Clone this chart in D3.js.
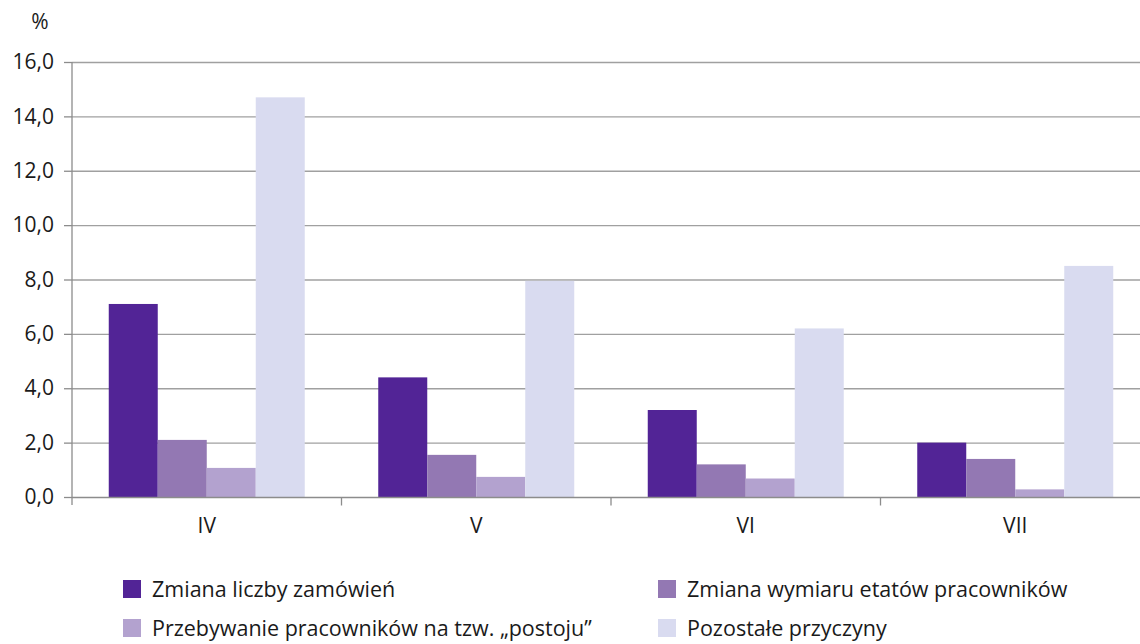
<!DOCTYPE html>
<html>
<head>
<meta charset="utf-8">
<script src="https://cdn.jsdelivr.net/npm/d3@7"></script>
<style>
  body { margin: 0; background: #fff; }
  text { font-family: "Open Sans", "Noto Sans", sans-serif; fill: #1a1a1a; }
</style>
</head>
<body>
<div id="container"></div>
<script>
const width = 1140;
const height = 644;
const marginTop = 62;
const marginLeft = 72;
const plotRight = 1150;
const plotBottom = 497;

const months = ["IV", "V", "VI", "VII"];
const seriesNames = [
  "Zmiana liczby zamówień",
  "Zmiana wymiaru etatów pracowników",
  "Przebywanie pracowników na tzw. „postoju”",
  "Pozostałe przyczyny"
];
const colors = ["#522496", "#9378b3", "#b3a2cf", "#d9dbf0"];
const zamowien = [7.1, 4.4, 3.2, 2.0];
const etatow = [2.1, 1.55, 1.2, 1.4];
const postoj = [1.07, 0.74, 0.68, 0.28];
const pozostale = [14.7, 7.95, 6.2, 8.5];
const yTicks = [0, 2, 4, 6, 8, 10, 12, 14, 16];

const seriesValues = [zamowien, etatow, postoj, pozostale];

const svg = d3.select("#container")
  .append("svg")
  .attr("width", width)
  .attr("height", height);

const x0 = d3.scaleBand()
  .domain(months)
  .range([marginLeft, plotRight]);

const x1 = d3.scaleBand()
  .domain(d3.range(seriesNames.length))
  .range([0, x0.bandwidth()])
  .paddingOuter(0.75)
  .paddingInner(0);

const y = d3.scaleLinear()
  .domain([0, 16])
  .range([plotBottom, marginTop]);

// gridlines
svg.append("g")
  .selectAll("line")
  .data(yTicks.filter(d => d > 0))
  .join("line")
  .attr("x1", marginLeft)
  .attr("x2", plotRight)
  .attr("y1", d => y(d) + 0.5)
  .attr("y2", d => y(d) + 0.5)
  .attr("stroke", "#a0a0a0")
  .attr("stroke-width", 1.3);

// bars
const groups = svg.append("g")
  .selectAll("g")
  .data(months)
  .join("g")
  .attr("transform", d => `translate(${x0(d)},0)`);

groups.selectAll("rect")
  .data((m, i) => seriesValues.map((vals, s) => ({ s, v: vals[i] })))
  .join("rect")
  .attr("x", d => x1(d.s))
  .attr("width", x1.bandwidth())
  .attr("y", d => y(d.v))
  .attr("height", d => y(0) - y(d.v))
  .attr("fill", d => colors[d.s]);

// y axis
const yAxis = svg.append("g")
  .attr("transform", `translate(${marginLeft},0)`)
  .call(d3.axisLeft(y).tickValues(yTicks).tickSize(8).tickPadding(10)
    .tickFormat(d => d3.format(".1f")(d).replace(".", ",")));
yAxis.select(".domain").remove();
yAxis.selectAll(".tick line").attr("stroke", "#8c8c8c").attr("stroke-width", 1.3);
yAxis.selectAll(".tick text").style("font-size", "21px").attr("fill", "#1a1a1a");
yAxis.append("line")
  .attr("y1", marginTop)
  .attr("y2", plotBottom + 8)
  .attr("stroke", "#8c8c8c")
  .attr("stroke-width", 1.3);

// x axis
const xAxis = svg.append("g")
  .attr("transform", `translate(0,${plotBottom + 0.5})`);
xAxis.append("line")
  .attr("x1", marginLeft)
  .attr("x2", plotRight)
  .attr("stroke", "#8c8c8c")
  .attr("stroke-width", 1.3);
xAxis.selectAll("line.sep")
  .data(months.slice(1))
  .join("line")
  .attr("class", "sep")
  .attr("x1", d => x0(d))
  .attr("x2", d => x0(d))
  .attr("y1", 0)
  .attr("y2", 8)
  .attr("stroke", "#8c8c8c")
  .attr("stroke-width", 1.3);
xAxis.selectAll("text")
  .data(months)
  .join("text")
  .attr("x", d => x0(d) + x0.bandwidth() / 2)
  .attr("y", 35)
  .attr("text-anchor", "middle")
  .style("font-size", "21px")
  .text(d => d);

svg.append("text")
  .attr("x", 40)
  .attr("y", 29)
  .attr("text-anchor", "middle")
  .style("font-size", "21px")
  .text("%");

// legend
const legendPos = [[123, 580], [658, 580], [123, 619], [658, 619]];
const legend = svg.append("g")
  .selectAll("g")
  .data(seriesNames)
  .join("g")
  .attr("transform", (d, i) => `translate(${legendPos[i][0]},${legendPos[i][1]})`);
legend.append("rect")
  .attr("width", 18)
  .attr("height", 18)
  .attr("fill", (d, i) => colors[i]);
legend.append("text")
  .attr("x", 29)
  .attr("y", 17)
  .style("font-size", "21.5px")
  .text(d => d);
</script>
</body>
</html>
